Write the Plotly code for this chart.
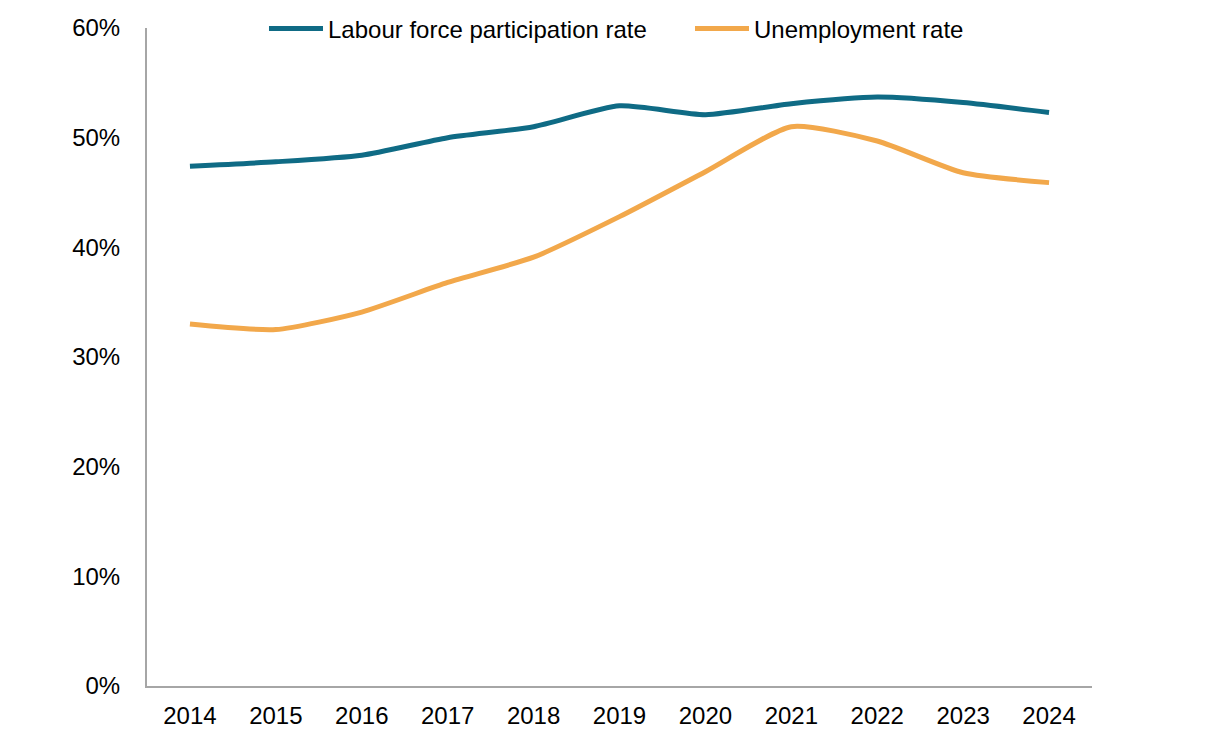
import plotly.graph_objects as go

years = ["2014", "2015", "2016", "2017", "2018", "2019", "2020", "2021", "2022", "2023", "2024"]
labour_force = [47.4, 47.8, 48.4, 50.0, 51.0, 52.9, 52.1, 53.1, 53.7, 53.2, 52.3]
unemployment = [33.0, 32.5, 34.1, 36.8, 39.1, 42.8, 46.9, 51.0, 49.7, 46.8, 45.9]

fig = go.Figure()
fig.add_trace(go.Scatter(x=years, y=labour_force, mode="lines", name="Labour force participation rate",
                         line=dict(color="#0F6B85", width=5, shape="spline", smoothing=0.6),
                         legend="legend"))
fig.add_trace(go.Scatter(x=years, y=unemployment, mode="lines", name="Unemployment rate",
                         line=dict(color="#F2A84B", width=5, shape="spline", smoothing=0.6),
                         legend="legend2"))

leg_common = dict(orientation="h", xanchor="left", y=1 - 21 / 721, yref="container",
                  yanchor="middle", font=dict(size=24), itemwidth=54, bgcolor="rgba(0,0,0,0)")

fig.update_layout(
    width=1220, height=721,
    margin=dict(l=139, r=136, t=20, b=43, autoexpand=False),
    paper_bgcolor="white", plot_bgcolor="white",
    font=dict(family="Liberation Sans, Arial, sans-serif", size=24, color="black"),
    showlegend=True,
    legend=dict(x=0.1238, **leg_common),
    legend2=dict(x=0.5746, **leg_common),
    xaxis=dict(type="category", range=[-0.5, 10.5], showgrid=False, showline=True,
               linecolor="#A6A6A6", linewidth=2, ticks="", ticklabelstandoff=7, tickfont=dict(size=24)),
    yaxis=dict(range=[0, 60], dtick=10, ticksuffix="%", showgrid=False, showline=True,
               linecolor="#A6A6A6", linewidth=2, ticks="", zeroline=False, ticklabelstandoff=20,
               tickfont=dict(size=24)),
)

fig.write_html("out.html")
